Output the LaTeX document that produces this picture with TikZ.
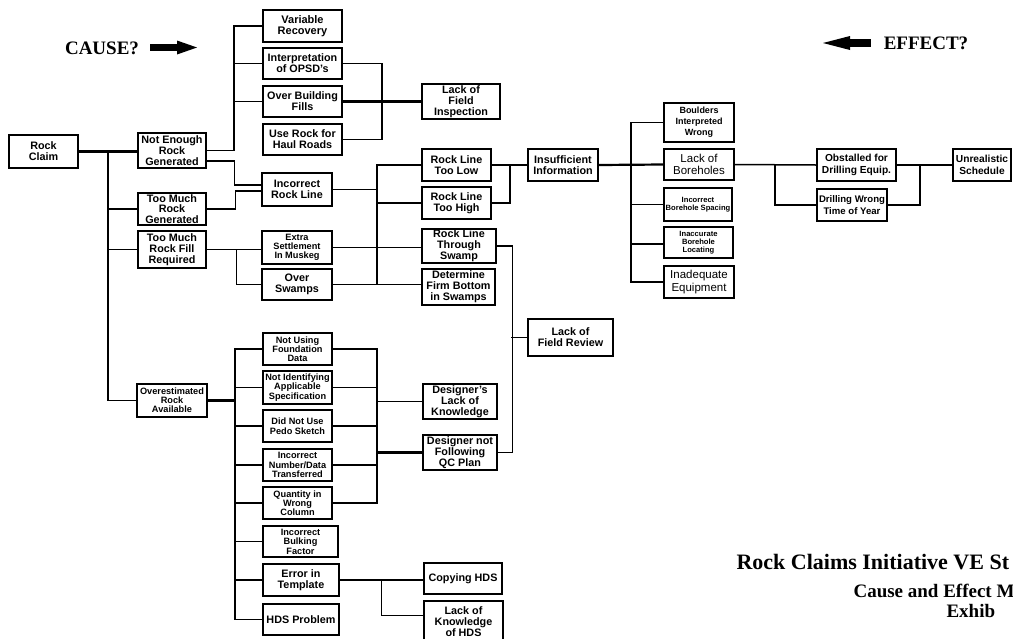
\documentclass[tikz,border=0pt]{standalone}
\usepackage{fontspec}
\setmainfont{Liberation Sans}
\newfontfamily\titlefont{Liberation Serif}
\begin{document}
\begin{tikzpicture}[x=1pt,y=-1pt,
  box/.style={draw, line width=1.4pt, align=center, inner sep=0pt,
    font=\bfseries\fontsize{10.8}{10.8}\selectfont},
  smalltxt/.style={font=\bfseries\fontsize{9.2}{9.2}\selectfont},
  tinytxt/.style={font=\bfseries\fontsize{7.6}{8}\selectfont},
  plaintxt/.style={font=\fontsize{11.5}{12.5}\selectfont},
  link/.style={line width=1.5pt},
  mainlink/.style={line width=2.2pt},
  heading/.style={font=\titlefont\bfseries\fontsize{19}{19}\selectfont},
]
% page
\fill[white] (0,0) rectangle (1013,638);
\useasboundingbox (0,0) rectangle (1013,638);

% box given by left, right, top, bottom edges
\newcommand\cebox[7][]{%
  \node[box,#1,minimum width={(#4-#3)*1pt},minimum height={(#6-#5)*1pt}]
    (#2) at ({(#3+#4)/2},{(#5+#6)/2}) {#7};}

% ---------- boxes ----------
\cebox{claim}{9}{78}{135}{168}{Rock\\Claim}
\cebox{notenough}{138}{206}{133}{168}{Not Enough\\Rock\\Generated}
\cebox{toomuchgen}{138}{206}{193}{225}{Too Much\\Rock\\Generated}
\cebox{toomuchfill}{138}{206}{231}{268}{Too Much\\Rock Fill\\Required}
\cebox[smalltxt]{overest}{137}{207}{384}{417}{Overestimated\\Rock\\Available}

\cebox[font=\bfseries\fontsize{11}{11.5}\selectfont]{varrec}{263}{342}{10}{42}{Variable\\Recovery}
\cebox{interp}{263}{342}{48}{79}{Interpretation\\of OPSD's}
\cebox{overbuild}{263}{342}{86}{117}{Over Building\\Fills}
\cebox{userock}{263}{342}{124}{155}{Use Rock for\\Haul Roads}
\cebox{lackinsp}{422}{500}{84}{119}{Lack of\\Field\\Inspection}

\cebox{incrock}{262}{332}{173}{206}{Incorrect\\Rock Line}
\cebox[smalltxt]{extraset}{262}{332}{231}{264}{Extra\\Settlement\\In Muskeg}
\cebox{overswamp}{262}{332}{269}{300}{Over\\Swamps}

\cebox{toolow}{422}{491}{149}{181}{Rock Line\\Too Low}
\cebox{toohigh}{422}{491}{187}{219}{Rock Line\\Too High}
\cebox{throughswamp}{422}{496}{229}{263}{Rock Line\\Through\\Swamp}
\cebox{firmbottom}{422}{495}{269}{305}{Determine\\Firm Bottom\\in Swamps}

\cebox{insuff}{528}{598}{149}{181}{Insufficient\\Information}
\cebox{lackfieldrev}{528}{613}{319}{356}{Lack of\\Field Review}

\cebox[font=\bfseries\fontsize{9}{11}\selectfont]{boulders}{664}{734}{103}{142}{Boulders\\Interpreted\\Wrong}
\cebox[plaintxt]{boreholes}{664}{734}{149}{180}{Lack of\\Boreholes}
\cebox[tinytxt]{spacing}{664}{732}{188}{221}{Incorrect\\Borehole Spacing}
\cebox[tinytxt]{locating}{664}{733}{227}{258}{Inaccurate\\Borehole\\Locating}
\cebox[plaintxt]{inadequate}{664}{734}{266}{298}{Inadequate\\Equipment}

\cebox[font=\bfseries\fontsize{10.2}{12}\selectfont]{obstalled}{817}{896}{149}{181}{Obstalled for\\Drilling Equip.}
\cebox[font=\bfseries\fontsize{9.6}{12}\selectfont]{drillwrong}{817}{887}{189}{221}{Drilling Wrong\\Time of Year}
\cebox[font=\bfseries\fontsize{10.2}{11.5}\selectfont]{unrealistic}{953}{1011}{149}{181}{Unrealistic\\Schedule}

\cebox[smalltxt]{notusing}{263}{332}{333}{365}{Not Using\\Foundation\\Data}
\cebox[smalltxt]{notident}{263}{332}{371}{404}{Not Identifying\\Applicable\\Specification}
\cebox[font=\bfseries\fontsize{9.2}{10}\selectfont]{pedo}{263}{332}{410}{442}{Did Not Use\\Pedo Sketch}
\cebox[smalltxt]{incnum}{263}{332}{449}{481}{Incorrect\\Number/Data\\Transferred}
\cebox[smalltxt]{quantity}{263}{332}{487}{519}{Quantity in\\Wrong\\Column}
\cebox[font=\bfseries\fontsize{9.2}{9.6}\selectfont]{bulking}{263}{338}{526}{557}{Incorrect\\Bulking\\Factor}
\cebox[font=\bfseries\fontsize{10.8}{11.2}\selectfont]{errtempl}{263}{339}{564}{596}{Error in\\Template}
\cebox{hdsprob}{263}{339}{604}{635}{HDS Problem}

\cebox{designerknow}{423}{497}{384}{419}{Designer's\\Lack of\\Knowledge}
\cebox{designerqc}{423}{497}{435}{470}{Designer not\\Following\\QC Plan}
\cebox{copyhds}{424}{502}{563}{594}{Copying HDS}
\cebox{lackhds}{424}{503}{601}{642}{Lack of\\Knowledge\\of HDS}

% ---------- connectors ----------
% main trunk
\coordinate (trunk) at (108,152);
\draw[mainlink] (claim.east) -- (claim.east -| notenough.west);
\draw[link] (trunk) |- (toomuchgen.west);
\draw[link] (trunk) |- (toomuchfill.west);
\draw[link] (trunk) |- (overest.west);

% not enough rock generated
\coordinate (ne) at (234,150.5);
\draw[link] (notenough.east) -- (ne) |- (varrec.west);
\draw[link] (ne) |- (interp.west);
\draw[link] (ne) |- (overbuild.west);
\draw[link] ([yshift=-10.5pt]notenough.east) -- ++(28,0) |- ([yshift=4.5pt]incrock.west);
\draw[link] (toomuchgen.east) -- ++(29,0) |- ([yshift=-1.5pt]incrock.west);

% lack of field inspection
\coordinate (fi) at (382,101.5);
\draw[mainlink] (overbuild.east) -- (lackinsp.west);
\draw[link] (interp.east) -| (fi);
\draw[link] (userock.east) -| (fi);

% too much rock fill required
\draw[link] (toomuchfill.east) -- (toomuchfill.east -| extraset.west);
\draw[link] (toomuchfill.east) -- ++(30,0) |- (overswamp.west);

% incorrect rock line bus
\coordinate (rl) at (377,189.5);
\draw[link] (incrock.east) -- (rl);
\draw[link] (rl) |- (toolow.west);
\draw[link] (rl) |- (toohigh.west);
\draw[link] (rl) -- (rl |- overswamp.east);
\draw[link] (extraset.east) -- (extraset.east -| throughswamp.west);
\draw[link] (overswamp.east) -- (overswamp.east -| firmbottom.west);

% insufficient information
\draw[link] (toolow.east) -- (insuff.west);
\draw[link] (toohigh.east) -| (510,165);

% lack of field review
\draw[link] (throughswamp.east) -- ++(16,0) |- (designerqc.east);
\draw[link] (lackfieldrev.west) -- ++(-16,0);

% borehole causes
\coordinate (bh) at (631,165);
\draw[mainlink] (insuff.east) -- (boreholes.west);
\draw[link] (bh) |- (boulders.west);
\draw[link] (bh) |- (spacing.west);
\draw[link] (bh) |- ([yshift=-1.5pt]locating.west);
\draw[link] (bh) |- (inadequate.west);

% schedule chain
\coordinate (dr) at (775,165);
\draw[link] (boreholes.east) -- (obstalled.west);
\draw[link] (dr) |- (drillwrong.west);
\draw[link] (obstalled.east) -- (unrealistic.west);
\draw[link] (drillwrong.east) -| (920,165);

% overestimated rock available
\coordinate (ov) at (235,400.5);
\draw[mainlink] (overest.east) -- (ov);
\foreach \n in {notusing,notident,pedo,incnum,quantity,bulking,errtempl,hdsprob}
  \draw[link] (ov) |- (\n.west);

% designer causes
\coordinate (ds) at (377,401.5);
\draw[link] (ds) -- (designerknow.west);
\draw[link] (notusing.east) -| (ds);
\draw[link] (quantity.east) -| (ds);
\foreach \n in {notident,pedo,incnum}
  \draw[link] (\n.east) -- (\n.east -| ds);
\draw[mainlink] (designerqc.west) -- (designerqc.west -| ds);

% template causes
\draw[link] (errtempl.east) -- (errtempl.east -| copyhds.west);
\draw[link] (errtempl.east) -- ++(42,0) |- ([yshift=6pt]lackhds.west);

% ---------- headings ----------
\node[heading, anchor=center] (cause) at (102,48) {CAUSE?};
\fill (150,44) rectangle (177,51);
\fill (177,40.5) -- (197,47.5) -- (177,54.5) -- cycle;
\node[heading, anchor=center] (effect) at (926,43) {EFFECT?};
\fill (850,39) rectangle (871,47);
\fill (850,36) -- (823,43) -- (850,50) -- cycle;

\node[heading, font=\titlefont\bfseries\fontsize{22}{22}\selectfont, anchor=base west]
  (title1) at (733,569) {Rock Claims Initiative VE St};
\node[heading, anchor=base west] (title2) at (850,597) {Cause and Effect M};
\node[heading, anchor=base west] (title3) at (943,617) {Exhib};
\end{tikzpicture}
\end{document}
